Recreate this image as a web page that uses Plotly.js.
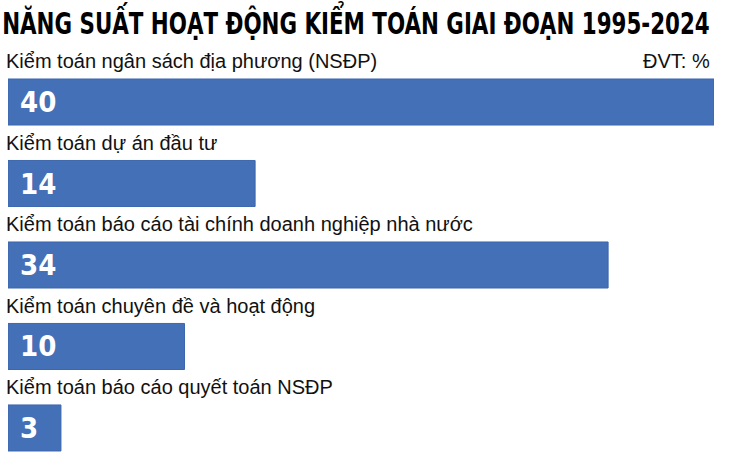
<!DOCTYPE html>
<html>
<head>
<meta charset="utf-8">
<script src="https://cdn.plot.ly/plotly-3.0.1.min.js"></script>
<style>
  html, body { margin: 0; padding: 0; background: #fff; }
  #chart { width: 730px; height: 456px; }
  #chart .gtitle { font-stretch: condensed; }
</style>
</head>
<body>
<div id="chart"></div>
<script>
// Năng suất hoạt động kiểm toán, ĐVT: %
const categories = [
    'Kiểm toán ngân sách địa phương (NSĐP)',
    'Kiểm toán dự án đầu tư',
    'Kiểm toán báo cáo tài chính doanh nghiệp nhà nước',
    'Kiểm toán chuyên đề và hoạt động',
    'Kiểm toán báo cáo quyết toán NSĐP',
];
const values = [40, 14, 34, 10, 3];
const positions = categories.map((c, i) => i);

const barColor = '#4470b8';
const labelFont = '"Liberation Sans", Arial, sans-serif';
const boldFont = '"DejaVu Sans Condensed", "DejaVu Sans", sans-serif';

const bars = {
    type: 'bar',
    orientation: 'h',
    x: values,
    y: positions,
    width: 0.565,
    marker: {
        color: barColor,
        line: { color: '#3d67ad', width: 1 },
    },
    hoverinfo: 'skip',
};

// nhãn danh mục đặt phía trên mỗi thanh
const labels = categories.map((c, i) => ({
    text: c,
    xref: 'paper',
    x: 0,
    xanchor: 'left',
    xshift: -4,
    yref: 'y',
    y: i - 0.5,
    yanchor: 'middle',
    showarrow: false,
    font: { family: labelFont, size: 20, color: '#111111' },
}));

// giá trị trong thanh
const valueLabels = values.map((v, i) => ({
    text: String(v),
    xref: 'x',
    x: 0,
    xanchor: 'left',
    xshift: 10,
    yref: 'y',
    y: positions[i],
    yanchor: 'middle',
    showarrow: false,
    font: { family: boldFont, size: 29, color: '#ffffff', weight: 'bold' },
}));

labels.push({
    text: 'ĐVT: %',
    xref: 'paper',
    x: 1,
    xanchor: 'right',
    xshift: -2,
    yref: 'y',
    y: -0.5,
    yanchor: 'middle',
    showarrow: false,
    font: { family: labelFont, size: 20, color: '#111111' },
});

const layout = {
    width: 730,
    height: 456,
    margin: { l: 8, r: 16, t: 40, b: 0 },
    paper_bgcolor: '#ffffff',
    plot_bgcolor: '#ffffff',
    title: {
        text: 'NĂNG SUẤT HOẠT ĐỘNG KIỂM TOÁN GIAI ĐOẠN 1995-2024',
        xref: 'container',
        x: 0.003,
        xanchor: 'left',
        yref: 'container',
        y: 1 - 23 / 456,
        yanchor: 'middle',
        font: { family: boldFont, size: 31, color: '#000000', weight: 'bold' },
    },
    xaxis: {
        range: [0, 40],
        visible: false,
        fixedrange: true,
    },
    yaxis: {
        range: [4.344, -0.761],
        visible: false,
        fixedrange: true,
    },
    showlegend: false,
    annotations: labels.concat(valueLabels),
};

Plotly.newPlot('chart', [bars], layout, { staticPlot: true, displayModeBar: false }).then(gd => {
    // nén tiêu đề theo chiều ngang cho vừa khung như bản gốc
    const t = gd.querySelector('.gtitle');
    if (t) {
        const box = t.getBBox();
        const s = 708 / box.width;
        if (s < 1) {
            const x0 = box.x;
            t.setAttribute('transform', `translate(${x0},0) scale(${s},1) translate(${-x0},0)`);
        }
    }
});
</script>
</body>
</html>
